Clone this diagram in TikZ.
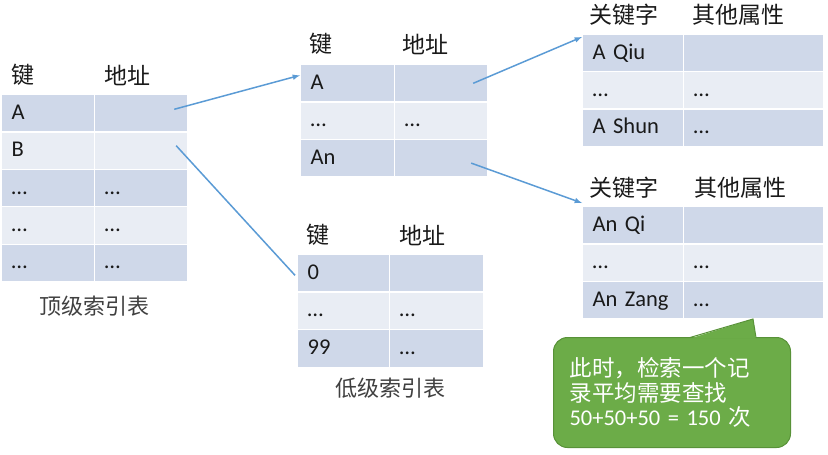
\documentclass[tikz,border=0pt]{standalone}
\usepackage{fontspec}
\setmainfont{Carlito}
\newfontfamily\cjk{Noto Sans CJK SC}
\usetikzlibrary{arrows}
\definecolor{celldark}{RGB}{207,216,233}
\definecolor{celllight}{RGB}{233,237,244}
\definecolor{linkblue}{RGB}{91,155,213}
\definecolor{notefill}{RGB}{108,172,72}
\definecolor{noteline}{RGB}{88,146,56}
\definecolor{inkgray}{RGB}{25,25,25}

\begin{document}
\begin{tikzpicture}[x=1pt, y=-1pt,
  cell/.style={draw=white, line width=1.2pt, anchor=north west, minimum height=37.4pt,
    inner xsep=10pt, text width=#1, align=left, text height=15pt, text depth=3pt,
    font=\fontsize{22.5pt}{24pt}\selectfont, text=inkgray},
  dark/.style={cell=#1, fill=celldark},
  light/.style={cell=#1, fill=celllight},
  head/.style={anchor=west, inner sep=0pt, font=\cjk\fontsize{23pt}{27pt}\selectfont, text=inkgray},
  caption/.style={inner sep=0pt, font=\cjk\fontsize{22pt}{26pt}\selectfont, text=black!75},
  link/.style={draw=linkblue, line width=1.5pt}]
\useasboundingbox (0,0) rectangle (828,455);

\node[head] (th1) at (11,75) {键};
\node[head] (th2) at (104,75) {地址};
\node[dark=73pt] (tk1) at (1,94) {A};
\node[dark=73pt] (ta1) at (94,94) {};
\node[light=73pt] (tk2) at (1,131.4) {B};
\node[light=73pt] (ta2) at (94,131.4) {};
\node[dark=73pt] (tk3) at (1,168.8) {…};
\node[dark=73pt] (ta3) at (94,168.8) {…};
\node[light=73pt] (tk4) at (1,206.2) {…};
\node[light=73pt] (ta4) at (94,206.2) {…};
\node[dark=73pt] (tk5) at (1,243.6) {…};
\node[dark=73pt] (ta5) at (94,243.6) {…};
\node[caption] (tcap) at (94,306) {顶级索引表};

\node[head] (mh1) at (309,44) {键};
\node[head] (mh2) at (402,44) {地址};
\node[dark=74pt] (mk1) at (300,64) {A};
\node[dark=73pt] (ma1) at (394,64) {};
\node[light=74pt] (mk2) at (300,101.4) {…};
\node[light=73pt] (ma2) at (394,101.4) {…};
\node[dark=74pt] (mk3) at (300,138.8) {An};
\node[dark=73pt] (ma3) at (394,138.8) {};

\node[head] (lh1) at (306,235) {键};
\node[head] (lh2) at (399,235) {地址};
\node[dark=72pt] (lk1) at (297,254) {0};
\node[dark=74pt] (la1) at (389,254) {};
\node[light=72pt] (lk2) at (297,291.6) {…};
\node[light=74pt] (la2) at (389,291.6) {…};
\node[dark=72pt] (lk3) at (297,329.2) {99};
\node[dark=74pt] (la3) at (389,329.2) {…};
\node[caption] (lcap) at (390,388) {低级索引表};

\node[head] (rh1) at (589,15) {关键字};
\node[head] (rh2) at (692,15) {其他属性};
\node[dark=81pt] (rk1) at (582,34) {A Qiu};
\node[dark=120pt] (rv1) at (683,34) {};
\node[light=81pt] (rk2) at (582,71.2) {…};
\node[light=120pt] (rv2) at (683,71.2) {…};
\node[dark=81pt] (rk3) at (582,108.4) {A Shun};
\node[dark=120pt] (rv3) at (683,108.4) {…};

\node[head] (sh1) at (589,188) {关键字};
\node[head] (sh2) at (694,188) {其他属性};
\node[dark=81pt] (sk1) at (582,206) {An Qi};
\node[dark=120pt] (sv1) at (683,206) {};
\node[light=81pt] (sk2) at (582,243.4) {…};
\node[light=120pt] (sv2) at (683,243.4) {…};
\node[dark=81pt] (sk3) at (582,280.8) {An Zang};
\node[dark=120pt] (sv3) at (683,280.8) {…};

\draw[link, -latex] ([xshift=-14pt,yshift=4pt]ta1.east) -- ([yshift=8pt]mk1.west);
\draw[link] ([xshift=-12pt,yshift=5pt]ta2.east) -- ([xshift=-2pt,yshift=-2pt]lk1.west);
\draw[link, -latex] ([xshift=-15pt]ma1.east) -- ([yshift=-3pt]rk1.north west);
\draw[link, -latex] ([xshift=-17pt,yshift=-5pt]ma3.east) -- ([yshift=3pt]sk1.north west);

\node[draw=noteline, fill=notefill, line width=1pt, rounded corners=14pt, anchor=north west,
  minimum width=237pt, minimum height=110pt, inner xsep=16pt, text width=205pt, align=left,
  text=white, font=\fontsize{22.5pt}{24.5pt}\selectfont] (note) at (553,337)
  {{\cjk 此时，检索一个记}\\{\cjk 录平均需要查找}\\50+50+50 = 150 {\cjk 次}};
\coordinate (tip) at (753,319);
\fill[notefill] ([xshift=137pt,yshift=-1.5pt]note.north west) -- (tip) -- ([xshift=203pt,yshift=-1.5pt]note.north west) -- cycle;
\draw[noteline, line width=1pt] ([xshift=137pt,yshift=-0.5pt]note.north west) -- (tip) -- ([xshift=203pt,yshift=-0.5pt]note.north west);
\end{tikzpicture}
\end{document}
